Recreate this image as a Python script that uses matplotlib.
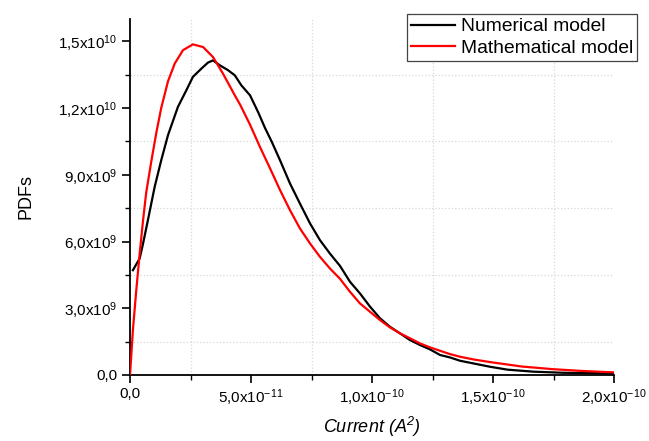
import matplotlib
matplotlib.use("Agg")
import matplotlib.pyplot as plt
from matplotlib.ticker import MultipleLocator, FixedLocator

plt.rcParams['font.family'] = ['Liberation Sans', 'DejaVu Sans']
plt.rcParams['mathtext.fontset'] = 'custom'
plt.rcParams['mathtext.rm'] = 'Liberation Sans'
plt.rcParams['mathtext.it'] = 'Liberation Sans:italic'
plt.rcParams['mathtext.default'] = 'regular'

# Numerical model (x in units of 1e-11 A^2, y in units of 1e9)
num_x = [0.12, 0.4, 0.54, 0.74, 1.02, 1.29, 1.57, 1.98, 2.33, 2.6, 2.95, 3.22,
         3.43, 3.71, 4.05, 4.33, 4.6, 4.96, 5.3, 5.58, 5.85, 6.2, 6.61, 7.02,
         7.44, 7.85, 8.26, 8.68, 9.09, 9.5, 9.92, 10.33, 10.74, 11.16, 11.57,
         11.98, 12.4, 12.81, 13.22, 13.64, 14.19, 14.88, 15.6, 16.66, 17.9, 20.0]
num_y = [4.71, 5.24, 5.91, 6.96, 8.46, 9.65, 10.78, 12.05, 12.8, 13.4, 13.77, 14.04,
         14.14, 13.92, 13.7, 13.47, 13.02, 12.57, 11.8, 11.1, 10.5, 9.65, 8.61, 7.71,
         6.81, 6.06, 5.46, 4.9, 4.19, 3.67, 3.07, 2.55, 2.17, 1.87, 1.57,
         1.35, 1.15, 0.9, 0.79, 0.64, 0.52, 0.37, 0.24, 0.15, 0.1, 0.07]

# Mathematical model
math_x = [0.0, 0.12, 0.26, 0.4, 0.54, 0.67, 0.88, 1.09, 1.29, 1.57, 1.85, 2.19,
          2.6, 3.02, 3.43, 3.84, 4.33, 4.55, 4.96, 5.37, 5.79, 6.2, 6.61, 7.02,
          7.44, 7.85, 8.26, 8.68, 9.09, 9.5, 9.92, 10.33, 10.74, 11.16, 11.57,
          11.98, 12.4, 12.81, 13.22, 13.64, 14.19, 14.88, 16.2, 17.5, 18.7, 19.97]
math_y = [0.0, 2.02, 3.82, 5.46, 6.96, 8.2, 9.6, 10.9, 12.0, 13.2, 14.0, 14.6,
          14.86, 14.74, 14.29, 13.55, 12.57, 12.15, 11.25, 10.25, 9.28, 8.31, 7.41, 6.59,
          5.91, 5.31, 4.79, 4.32, 3.74, 3.22, 2.84, 2.47, 2.14, 1.87, 1.65,
          1.42, 1.24, 1.09, 0.94, 0.82, 0.7, 0.58, 0.38, 0.26, 0.18, 0.12]

series_labels = ["Numerical model", "Mathematical model"]
x_ticks = [0.0, 5e-11, 1e-10, 1.5e-10, 2e-10]
x_tick_labels = ["0,0", "5,0x10$^{-11}$", "1,0x10$^{-10}$", "1,5x10$^{-10}$", "2,0x10$^{-10}$"]
y_ticks = [0.0, 3e9, 6e9, 9e9, 1.2e10, 1.5e10]
y_tick_labels = ["0,0", "3,0x10$^{9}$", "6,0x10$^{9}$", "9,0x10$^{9}$", "1,2x10$^{10}$", "1,5x10$^{10}$"]

fig = plt.figure(figsize=(6.49, 4.41), dpi=100)
ax = fig.add_axes([130/649, 1-375/441, 484/649, 356/441])

ax.plot([v*1e-11 for v in num_x], [v*1e9 for v in num_y], color='black', lw=1.6,
        label=series_labels[0], zorder=3, solid_joinstyle='round')
ax.plot([v*1e-11 for v in math_x], [v*1e9 for v in math_y], color='#ff0000', lw=1.6,
        label=series_labels[1], zorder=3, solid_joinstyle='round')

ax.set_xlim(0, 2e-10)
ax.set_ylim(0, 1.6e10)
ax.xaxis.set_major_locator(FixedLocator(x_ticks))
ax.set_xticklabels(x_tick_labels)
ax.yaxis.set_major_locator(FixedLocator(y_ticks))
ax.set_yticklabels(y_tick_labels)
ax.xaxis.set_minor_locator(MultipleLocator(2.5e-11))
ax.yaxis.set_minor_locator(FixedLocator([1.5e9, 4.5e9, 7.5e9, 1.05e10, 1.35e10]))

ax.grid(which='minor', color='#d8d8d8', linestyle=':', linewidth=0.9)
ax.grid(which='major', visible=False)

for s in ['top', 'right']:
    ax.spines[s].set_visible(False)
for s in ['left', 'bottom']:
    ax.spines[s].set_linewidth(1.3)

ax.tick_params(which='major', direction='out', length=6, width=1.2, labelsize=11, pad=3)
ax.tick_params(which='minor', direction='out', length=3.5, width=1.0)

ax.set_ylabel("PDFs", fontsize=13, labelpad=17)
ax.set_xlabel("Current ($A^2$)", fontsize=13, style='italic', labelpad=5)

leg = ax.legend(loc='upper right', bbox_to_anchor=(637/649, 1-14/441),
                bbox_transform=fig.transFigure, fontsize=13.9, frameon=True,
                fancybox=False, edgecolor='#444444', framealpha=1,
                borderpad=0.2, labelspacing=0.22, handlelength=2.3,
                handletextpad=0.3, borderaxespad=0)
leg.get_frame().set_linewidth(0.9)

fig.savefig("out.png", dpi=100)
